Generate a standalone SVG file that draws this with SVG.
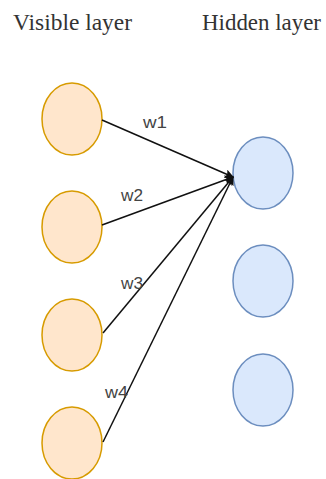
<svg xmlns="http://www.w3.org/2000/svg" width="326" height="479" viewBox="0 0 326 479">
<style>
.v{fill:#ffe6cc;stroke:#d79b00;stroke-width:1.5}
.h{fill:#dae8fc;stroke:#6c8ebf;stroke-width:1.5}
.t{font-family:"Liberation Serif",serif;font-size:24px;fill:#333}
.w{font-family:"Liberation Sans",Arial,sans-serif;font-size:16px;fill:#444}
.c{stroke:#111;stroke-width:1.5;fill:none}
</style>
<defs>
<marker id="ah" viewBox="0 0 10 10" refX="9" refY="5" markerWidth="6" markerHeight="6" markerUnits="strokeWidth" orient="auto">
<path d="M0,0 L10,5 L0,10 L2,5 Z" fill="#111"/>
</marker>
</defs>
<text class="t" x="13" y="30" textLength="119" lengthAdjust="spacingAndGlyphs">Visible layer</text>
<text class="t" x="202" y="30" textLength="119" lengthAdjust="spacingAndGlyphs">Hidden layer</text>
<g id="v1"><ellipse class="v" cx="72" cy="119" rx="30" ry="36"/></g>
<g id="v2"><ellipse class="v" cx="72" cy="227" rx="30" ry="36"/></g>
<g id="v3"><ellipse class="v" cx="72" cy="335" rx="30" ry="36"/></g>
<g id="v4"><ellipse class="v" cx="72" cy="443" rx="30" ry="36"/></g>
<g id="h1"><ellipse class="h" cx="263" cy="173" rx="30" ry="36"/></g>
<g id="h2"><ellipse class="h" cx="263" cy="281" rx="30" ry="36"/></g>
<g id="h3"><ellipse class="h" cx="263" cy="390" rx="30" ry="36"/></g>
<g id="connectors">
<line class="c" x1="102" y1="120" x2="233" y2="177" marker-end="url(#ah)"/>
<line class="c" x1="102" y1="225" x2="233" y2="177" marker-end="url(#ah)"/>
<line class="c" x1="103" y1="333" x2="233" y2="177" marker-end="url(#ah)"/>
<line class="c" x1="103" y1="442" x2="233" y2="177" marker-end="url(#ah)"/>
</g>
<text class="w" x="143" y="128" textLength="24" lengthAdjust="spacingAndGlyphs">w1</text>
<text class="w" x="121" y="201" textLength="22" lengthAdjust="spacingAndGlyphs">w2</text>
<text class="w" x="121" y="289" textLength="22" lengthAdjust="spacingAndGlyphs">w3</text>
<text class="w" x="105" y="398" textLength="23" lengthAdjust="spacingAndGlyphs">w4</text>
</svg>
